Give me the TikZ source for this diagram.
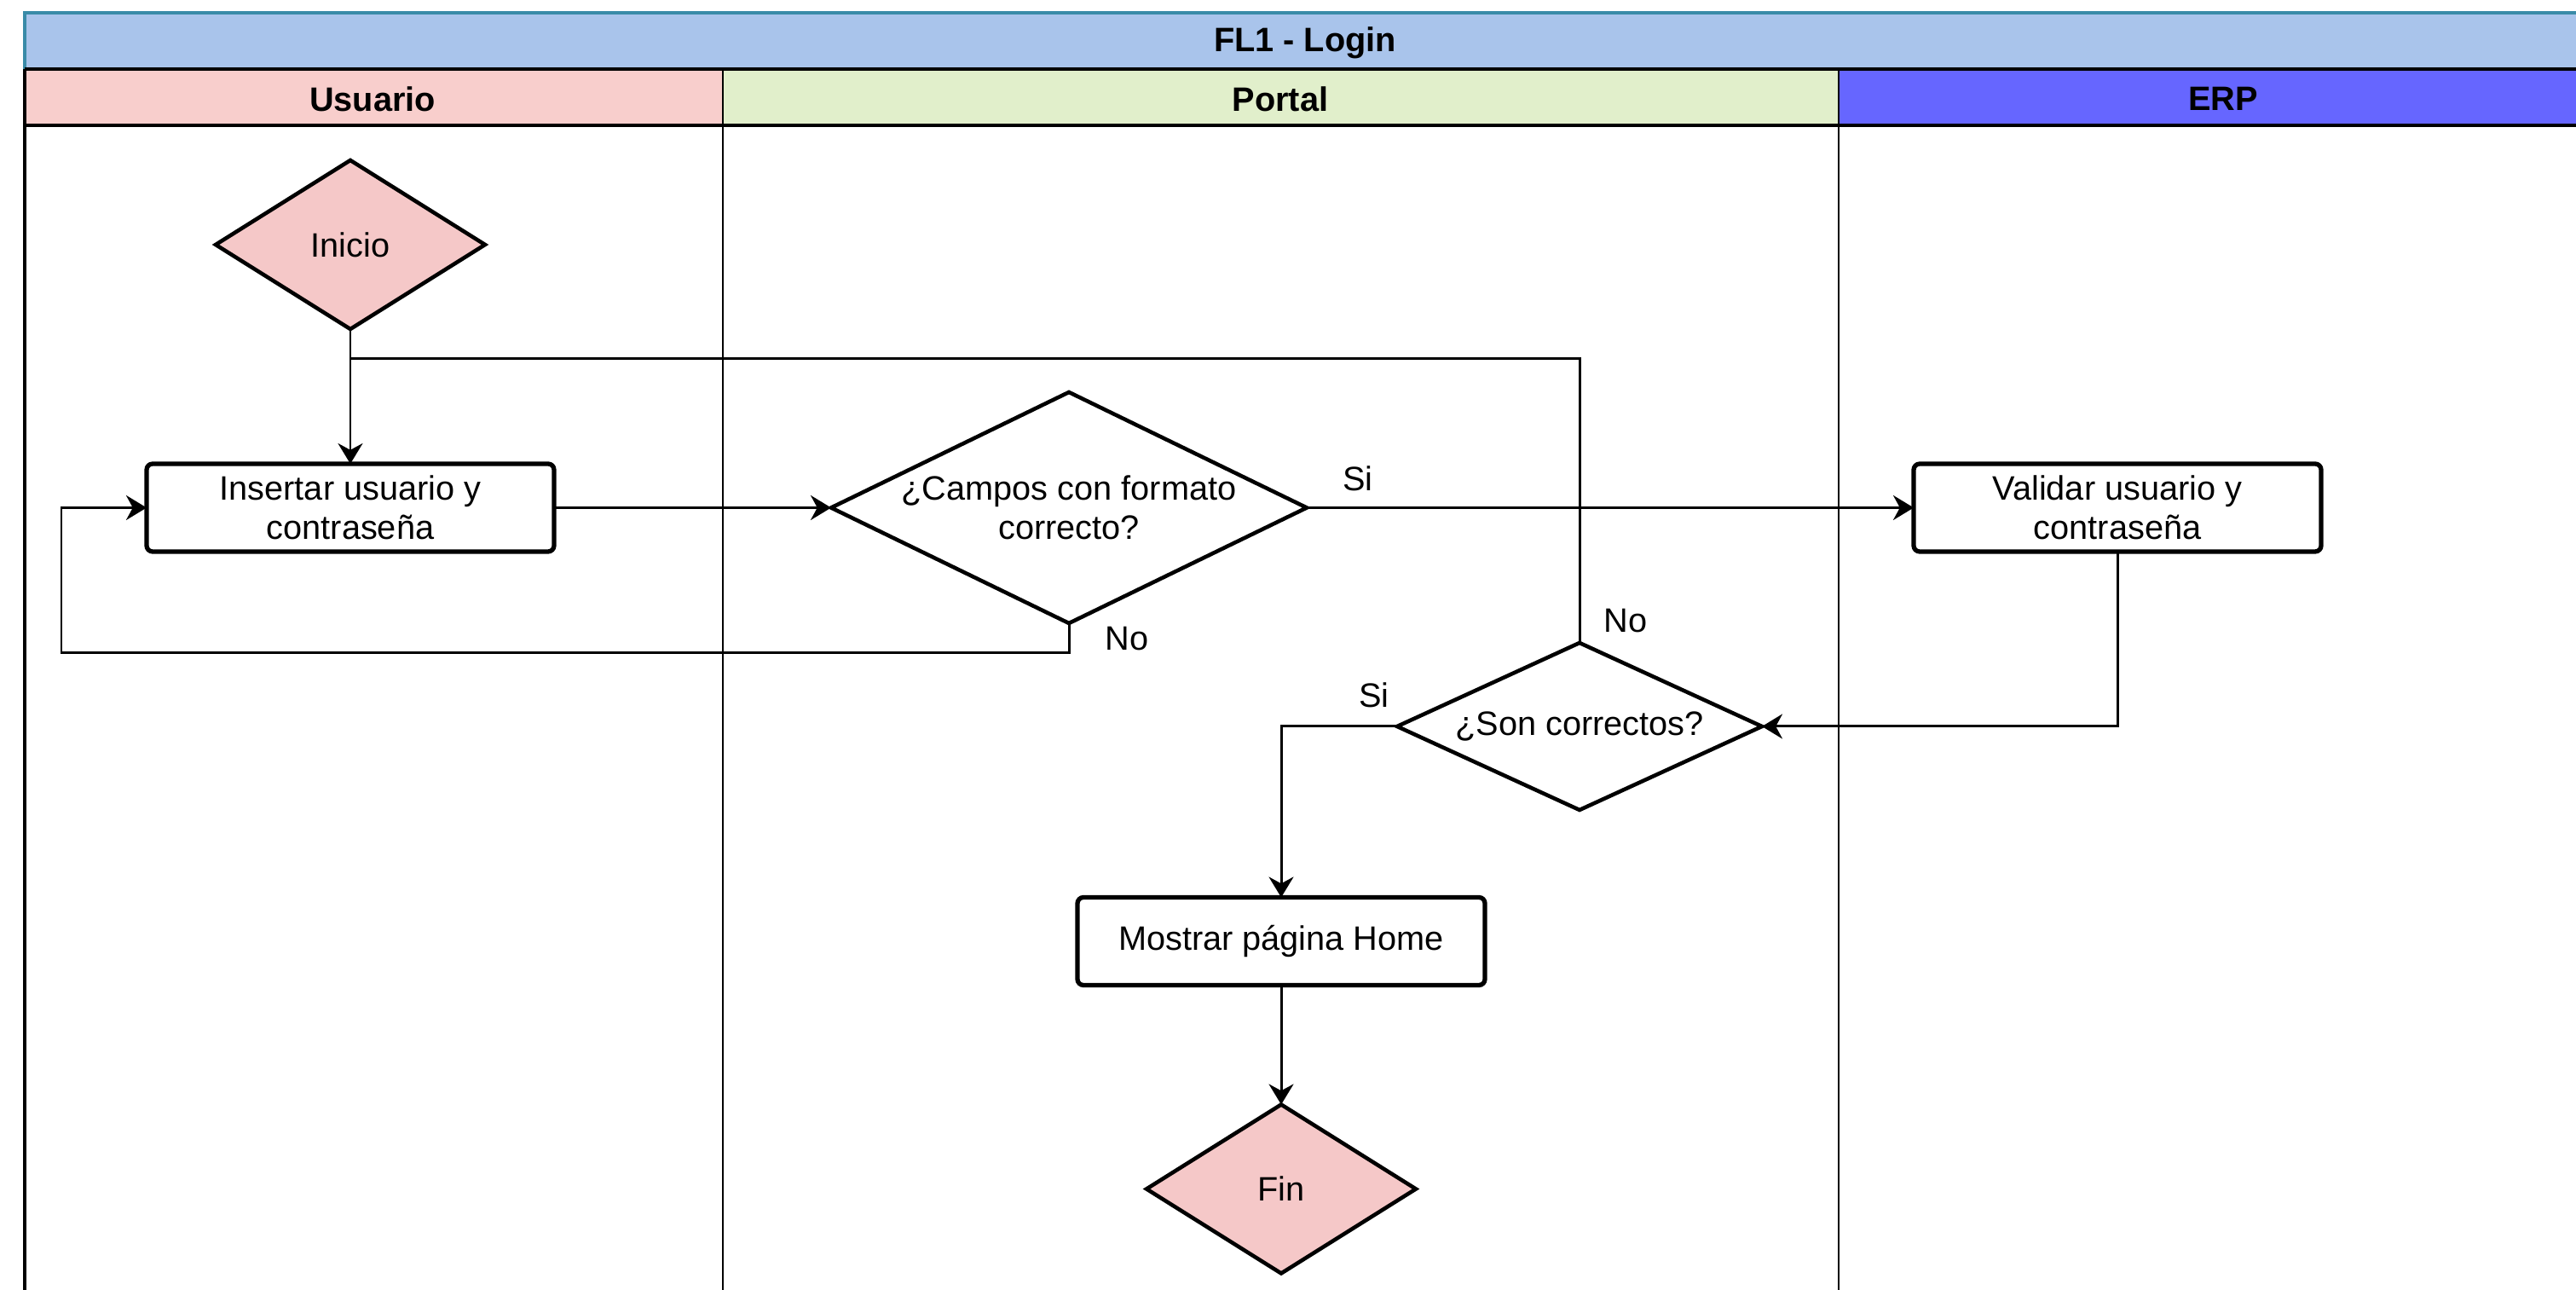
\documentclass[tikz,border=0pt]{standalone}
\usepackage{fontspec}
\setmainfont{Liberation Sans}
\usetikzlibrary{arrows.meta, positioning, shapes.geometric, calc}

\definecolor{titlefill}{HTML}{A9C4EB}
\definecolor{titleline}{HTML}{3A8BA8}
\definecolor{userfill}{HTML}{F8CECC}
\definecolor{portalfill}{HTML}{E1EFCB}
\definecolor{erpfill}{HTML}{6666FF}
\definecolor{startfill}{HTML}{F5C8C8}

\begin{document}
\begin{tikzpicture}[
    font=\fontsize{11.3}{13}\selectfont,
    box/.style={rectangle, draw, line width=1.5pt, rounded corners=2pt, fill=white, outer sep=0pt, minimum width=4.78cm, minimum height=1.03cm, align=center},
    terminal/.style={diamond, draw, line width=1.3pt, fill=startfill, outer sep=0pt, inner sep=0pt, minimum width=3.16cm, minimum height=1.98cm},
    decision/.style={diamond, draw, line width=1.3pt, fill=white, outer sep=0pt, inner sep=0pt},
    lanehead/.style={font=\fontsize{11.3}{13}\selectfont\bfseries},
    answer/.style={inner sep=1pt},
    arrow/.style={-{Stealth[length=2.4mm, width=2.9mm]}, line width=0.85pt},
    link/.style={line width=0.85pt}
]
\clip (0,0) rectangle (30.22,15.13);

% Pool and lanes
\fill[titlefill] (0.29,14.32) rectangle (30.6,14.98);
\fill[userfill] (0.29,13.66) rectangle (8.48,14.32);
\fill[portalfill] (8.48,13.66) rectangle (21.57,14.32);
\fill[erpfill] (21.57,13.66) rectangle (30.6,14.32);
\draw[titleline, line width=1.2pt] (0.29,14.32) -- (0.29,14.98) -- (30.6,14.98);
\draw[line width=1.1pt] (0.29,14.32) -- (30.6,14.32);
\draw[line width=1.1pt] (0.29,13.66) -- (30.6,13.66);
\draw[line width=1.2pt] (0.29,14.32) -- (0.29,-0.2);
\draw[line width=0.8pt] (8.48,14.32) -- (8.48,-0.2);
\draw[line width=0.8pt] (21.57,14.32) -- (21.57,-0.2);

\node[lanehead] (title) at (15.31,14.63) {FL1 - Login};
\node[lanehead] (usuario) at (4.37,13.97) {Usuario};
\node[lanehead] (portal) at (15.02,13.97) {Portal};
\node[lanehead] (erp) at (26.08,13.97) {ERP};

% Nodes
\node[terminal] (inicio) at (4.11,12.26) {Inicio};
\node[box, below=1.58cm of inicio] (insertar) {Insertar usuario y\\contraseña};
\node[decision, right=3.25cm of insertar, minimum width=5.58cm, minimum height=2.71cm,
    label={[name=campostext, align=center]center:¿Campos con formato\\correcto?}] (campos) {};
\node[box, right=7.12cm of campos] (validar) {Validar usuario y\\contraseña};
\node[decision, minimum width=4.28cm, minimum height=1.96cm,
    label={[name=sontext]center:¿Son correctos?}] (son) at (18.53,6.61) {};
\node[box] (mostrar) at (15.03,4.09) {Mostrar página Home};
\node[terminal, below=1.40cm of mostrar] (fin) {Fin};

\coordinate (loop) at (0.72,7.47);
\coordinate (join) at (inicio.south |- 0,10.92);

% Arrows
\draw[arrow] (inicio) -- (insertar);
\draw[arrow] (insertar) -- (campos);
\draw[arrow] (campos.south) |- (loop) |- (insertar.west);
\draw[arrow] (campos) -- (validar);
\draw[arrow] (validar.south) |- (son.east);
\draw[arrow] (son.west) -| (mostrar.north);
\draw[link] (son.north) |- (join);
\draw[arrow] (mostrar) -- (fin);

% Answers
\node[answer] (si1) at ($(campos.east)+(0.6,0.34)$) {Si};
\node[answer] (no1) at ($(campos.south)+(0.68,-0.18)$) {No};
\node[answer] (no2) at ($(son.north)+(0.54,0.26)$) {No};
\node[answer] (si2) at ($(son.west)+(-0.27,0.37)$) {Si};

\end{tikzpicture}
\end{document}
